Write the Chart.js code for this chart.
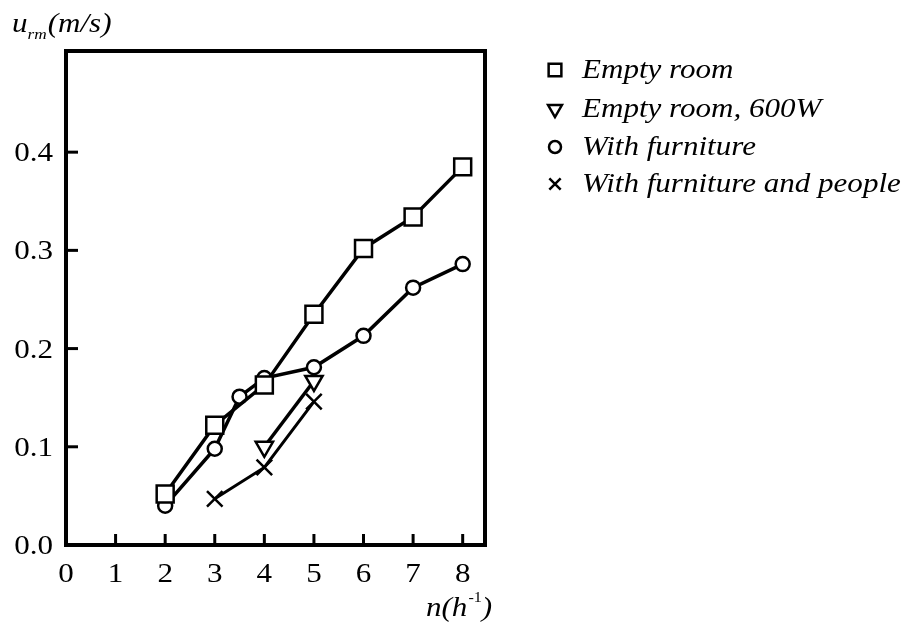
<!DOCTYPE html>
<html>
<head>
<meta charset="utf-8">
<script src="https://cdn.jsdelivr.net/npm/chart.js@4.4.0/dist/chart.umd.min.js"></script>
<style>
  html, body { margin: 0; padding: 0; background: #fff; }
  canvas { display: block; }
</style>
</head>
<body>
<canvas id="velChart" width="911" height="628"></canvas>
<script>
// values
const xEmpty = [2, 3, 4, 5, 6, 7, 8];
const yEmpty = [0.052, 0.122, 0.163, 0.235, 0.302, 0.334, 0.385];

const xEmpty600 = [4, 5];
const yEmpty600 = [0.100, 0.167];

const xFurniture = [2, 3, 3.5, 4, 5, 6, 7, 8];
const yFurniture = [0.040, 0.098, 0.151, 0.170, 0.181, 0.213, 0.262, 0.286];

const xPeople = [3, 4, 5];
const yPeople = [0.047, 0.079, 0.146];

const xTicks = [0, 1, 2, 3, 4, 5, 6, 7, 8];
const yTicks = [0.0, 0.1, 0.2, 0.3, 0.4];

const legendLabels = ['Empty room', 'Empty room, 600W', 'With furniture', 'With furniture and people'];

const serif = '"Liberation Serif", "DejaVu Serif", serif';
const stretch = 1.15; // the original typeface is wider than Times

function toPoints(xs, ys) {
    const pts = [];
    for (let i = 0; i < xs.length; i++) {
        pts.push({ x: xs[i], y: ys[i] });
    }
    return pts;
}

function series(label, xs, ys, style, radius, rotation, lineWidth) {
    return {
        label: label,
        data: toPoints(xs, ys),
        borderColor: '#000',
        backgroundColor: '#fff',
        borderWidth: lineWidth,
        pointStyle: style,
        pointRadius: radius,
        pointRotation: rotation,
        pointBorderWidth: 2.5,
        pointBorderColor: '#000',
        pointBackgroundColor: '#fff',
        tension: 0,
        fill: false
    };
}

// draws text a bit wider, returns drawn width
function wideText(ctx, text, x, y, font, align) {
    ctx.font = font;
    const w = ctx.measureText(text).width * stretch;
    let x0 = x;
    if (align === 'right') x0 = x - w;
    if (align === 'center') x0 = x - w / 2;
    ctx.save();
    ctx.translate(x0, y);
    ctx.scale(stretch, 1);
    ctx.textAlign = 'left';
    ctx.fillText(text, 0, 0);
    ctx.restore();
    return w;
}

const frameAndText = {
    id: 'frameAndText',
    afterDraw(chart) {
        const ctx = chart.ctx;
        const a = chart.chartArea;
        const xs = chart.scales.x;
        const ys = chart.scales.y;
        ctx.save();

        // frame
        ctx.strokeStyle = '#000';
        ctx.lineWidth = 4;
        ctx.strokeRect(a.left, a.top, a.right - a.left, a.bottom - a.top);

        // inward ticks
        ctx.lineWidth = 3;
        xTicks.forEach(function (v) {
            if (v === 0) return;
            const px = xs.getPixelForValue(v);
            ctx.beginPath();
            ctx.moveTo(px, a.bottom);
            ctx.lineTo(px, a.bottom - 11);
            ctx.stroke();
        });
        yTicks.forEach(function (v) {
            if (v === 0) return;
            const py = ys.getPixelForValue(v);
            ctx.beginPath();
            ctx.moveTo(a.left, py);
            ctx.lineTo(a.left + 12, py);
            ctx.stroke();
        });

        // tick labels
        ctx.fillStyle = '#000';
        ctx.textBaseline = 'middle';
        const tickFont = '27px ' + serif;
        xTicks.forEach(function (v) {
            wideText(ctx, String(v), xs.getPixelForValue(v), 575, tickFont, 'center');
        });
        yTicks.forEach(function (v) {
            wideText(ctx, v.toFixed(1), 53, ys.getPixelForValue(v) + 2, tickFont, 'right');
        });

        // axis titles
        ctx.textBaseline = 'alphabetic';
        const big = 'italic 27px ' + serif;
        let x = 12;
        x += wideText(ctx, 'u', x, 32, big);
        x += wideText(ctx, 'rm', x, 39, 'italic 15px ' + serif) + 1;
        wideText(ctx, '(m/s)', x, 32, big);

        x = 426;
        x += wideText(ctx, 'n(h', x, 616, big) + 1;
        x += wideText(ctx, '-1', x, 602, '14px ' + serif);
        wideText(ctx, ')', x, 616, big);

        // legend
        const datasets = chart.data.datasets;
        const rows = [70, 109, 147, 184];
        const markR = [9, 8, 6, 8];
        ctx.textBaseline = 'middle';
        for (let i = 0; i < legendLabels.length; i++) {
            const ds = datasets[i];
            ctx.strokeStyle = '#000';
            ctx.fillStyle = '#fff';
            ctx.lineWidth = 2.5;
            Chart.helpers.drawPoint(ctx, {
                pointStyle: ds.pointStyle,
                radius: markR[i],
                rotation: ds.pointRotation,
                borderWidth: 2.5
            }, 555, rows[i]);
            ctx.fillStyle = '#000';
            wideText(ctx, legendLabels[i], 582, rows[i] + 1, big);
        }

        ctx.restore();
    }
};

const ctx = document.getElementById('velChart').getContext('2d');

new Chart(ctx, {
    type: 'line',
    data: {
        datasets: [
            series(legendLabels[0], xEmpty, yEmpty, 'rect', 12, 0, 3.5),
            series(legendLabels[1], xEmpty600, yEmpty600, 'triangle', 10, 180, 3.5),
            series(legendLabels[2], xFurniture, yFurniture, 'circle', 7, 0, 3.5),
            series(legendLabels[3], xPeople, yPeople, 'crossRot', 11, 0, 3)
        ]
    },
    options: {
        responsive: false,
        animation: false,
        layout: { padding: { top: 51, right: 426, bottom: 0, left: 0 } },
        plugins: {
            legend: { display: false },
            tooltip: { enabled: false }
        },
        scales: {
            x: {
                type: 'linear',
                min: 0,
                max: 8.45,
                grid: { display: false, drawTicks: false },
                border: { display: false },
                afterFit(scale) { scale.height = 83; },
                ticks: { display: false, stepSize: 1 }
            },
            y: {
                type: 'linear',
                min: 0,
                max: 0.503,
                grid: { display: false, drawTicks: false },
                border: { display: false },
                afterFit(scale) { scale.width = 66; },
                ticks: { display: false, stepSize: 0.1 }
            }
        }
    },
    plugins: [frameAndText]
});
</script>
</body>
</html>
